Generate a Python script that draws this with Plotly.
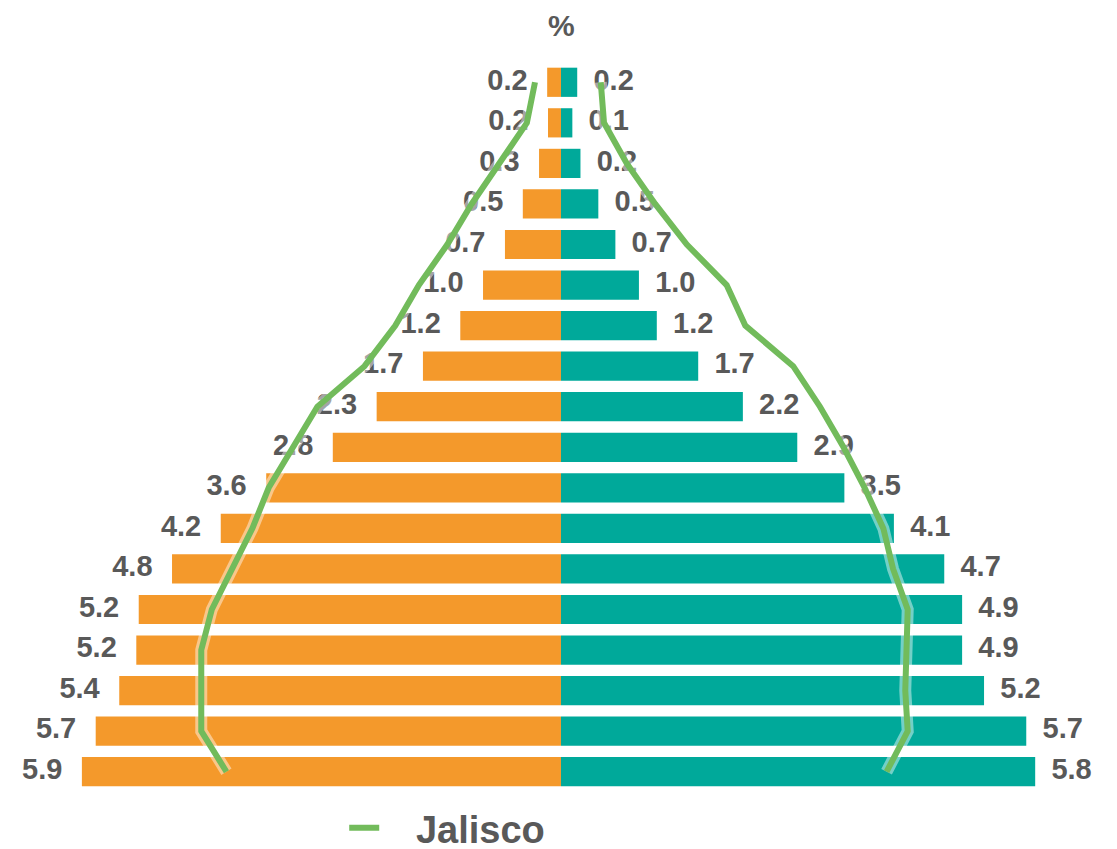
import plotly.graph_objects as go

# age groups, bottom to top
grupos = ['0-4', '5-9', '10-14', '15-19', '20-24', '25-29', '30-34', '35-39', '40-44',
          '45-49', '50-54', '55-59', '60-64', '65-69', '70-74', '75-79', '80-84', '85+']

# bars (%)
hombres = [5.90, 5.73, 5.44, 5.23, 5.20, 4.79, 4.19, 3.63, 2.81,
           2.27, 1.70, 1.24, 0.96, 0.69, 0.47, 0.27, 0.16, 0.17]
mujeres = [5.84, 5.73, 5.21, 4.94, 4.94, 4.72, 4.10, 3.49, 2.91,
           2.24, 1.69, 1.18, 0.96, 0.67, 0.46, 0.24, 0.14, 0.20]

# Jalisco reference line (%)
jalisco_h = [4.12, 4.43, 4.43, 4.43, 4.30, 4.05, 3.80, 3.60, 3.30,
             3.00, 2.42, 2.04, 1.75, 1.40, 1.10, 0.75, 0.42, 0.32]
jalisco_m = [4.01, 4.27, 4.24, 4.26, 4.27, 4.09, 3.97, 3.74, 3.48,
             3.19, 2.86, 2.27, 2.04, 1.55, 1.16, 0.81, 0.53, 0.49]

NARANJA = '#F4992B'
VERDE_AGUA = '#00A99A'
VERDE = '#72BB5B'
GRIS = '#595959'
FUENTE = 'Liberation Sans, Arial, sans-serif'

fig = go.Figure()

fig.add_trace(go.Bar(y=grupos, x=[-v for v in hombres], orientation='h',
                     marker=dict(color=NARANJA, line=dict(width=0)),
                     showlegend=False, hoverinfo='skip'))
fig.add_trace(go.Bar(y=grupos, x=mujeres, orientation='h',
                     marker=dict(color=VERDE_AGUA, line=dict(width=0)),
                     showlegend=False, hoverinfo='skip'))

# labels next to the bars
fig.add_trace(go.Scatter(y=grupos, x=[-v - 0.24 for v in hombres], mode='text',
                         text=[f'{v:.1f}' for v in hombres], textposition='middle left',
                         textfont=dict(family=FUENTE, size=29, color=GRIS, weight='bold'),
                         showlegend=False, hoverinfo='skip'))
fig.add_trace(go.Scatter(y=grupos, x=[v + 0.20 for v in mujeres], mode='text',
                         text=[f'{v:.1f}' for v in mujeres], textposition='middle right',
                         textfont=dict(family=FUENTE, size=29, color=GRIS, weight='bold'),
                         showlegend=False, hoverinfo='skip'))

# Jalisco line, both sides in one trace
lx = [-v for v in jalisco_h] + [None] + jalisco_m
ly = grupos + [None] + grupos
fig.add_trace(go.Scatter(x=lx, y=ly, mode='lines',
                         line=dict(color='rgba(255,255,255,0.45)', width=12),
                         showlegend=False, hoverinfo='skip'))
fig.add_trace(go.Scatter(x=lx, y=ly, mode='lines', name='\u00a0\u00a0\u00a0Jalisco',
                         line=dict(color=VERDE, width=6), hoverinfo='skip'))

fig.update_layout(
    width=1117, height=849,
    margin=dict(l=0, r=0, t=54, b=65),
    paper_bgcolor='white', plot_bgcolor='white',
    barmode='overlay', bargap=0.28,
    xaxis=dict(range=[-6.81, 6.946], visible=False, fixedrange=True),
    yaxis=dict(range=[-0.5, 17.5], visible=False, categoryorder='array',
               categoryarray=grupos, fixedrange=True),
    showlegend=True,
    legend=dict(orientation='h', x=0.301, xanchor='left',
                yref='container', y=0.034, yanchor='middle',
                font=dict(family=FUENTE, size=38, color=GRIS, weight='bold'),
                bgcolor='rgba(0,0,0,0)'),
    annotations=[dict(text='%', x=0.4955, y=1.0, xref='paper', yref='paper',
                      xanchor='center', yanchor='middle', yshift=37, showarrow=False,
                      font=dict(family=FUENTE, size=30, color=GRIS, weight='bold'))],
)

fig.write_html('out.html')
